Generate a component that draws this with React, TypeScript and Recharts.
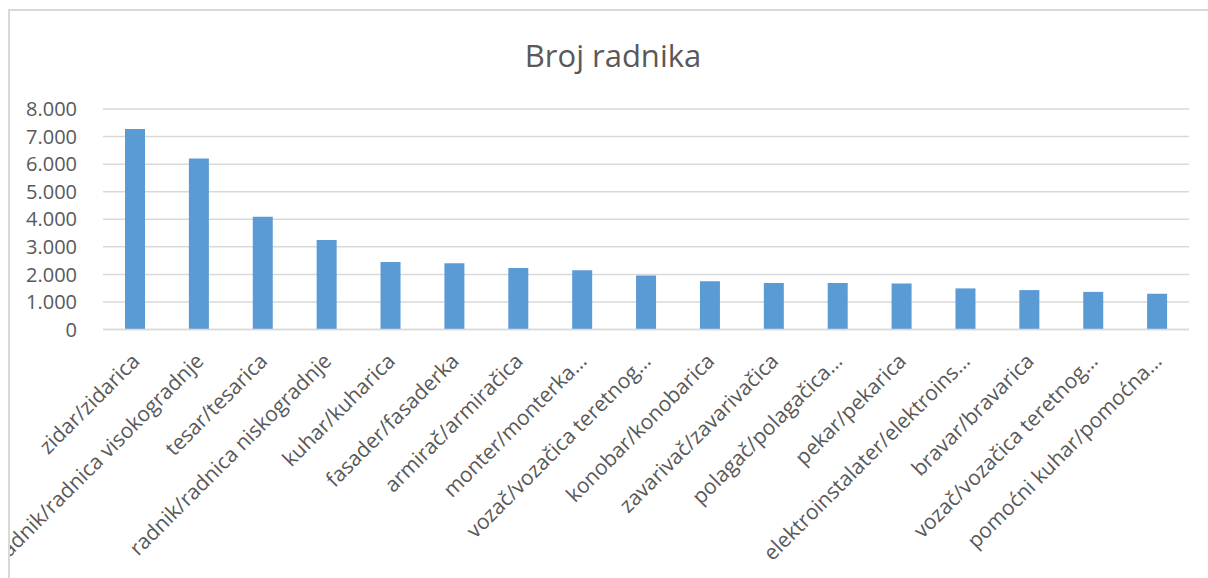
import React from "react";
import { BarChart, Bar, XAxis, YAxis, CartesianGrid } from "recharts";

const categories = [
  "zidar/zidarica",
  "radnik/radnica visokogradnje",
  "tesar/tesarica",
  "radnik/radnica niskogradnje",
  "kuhar/kuharica",
  "fasader/fasaderka",
  "armirač/armiračica",
  "monter/monterka…",
  "vozač/vozačica teretnog…",
  "konobar/konobarica",
  "zavarivač/zavarivačica",
  "polagač/polagačica…",
  "pekar/pekarica",
  "elektroinstalater/elektroins…",
  "bravar/bravarica",
  "vozač/vozačica teretnog…",
  "pomoćni kuhar/pomoćna…",
];

const workers = [7270, 6200, 4090, 3250, 2450, 2400, 2230, 2150, 1960, 1750, 1684, 1684, 1673, 1491, 1430, 1365, 1297];

const yTicks = [0, 1000, 2000, 3000, 4000, 5000, 6000, 7000, 8000];

const title = "Broj radnika";

const data = categories.map((c, i) => ({ name: c, value: workers[i], idx: i }));

const FONT = "'Open Sans', sans-serif";
const TEXT = "#595959";

const fmt = (v: number) => v.toLocaleString("de-DE");

const XTick = (props: any) => {
  const { x, y, payload } = props;
  return (
    <g transform={`translate(${x},${y})`}>
      <text
        x={6}
        y={33}
        textAnchor="end"
        transform="rotate(-45, 6, 33)"
        fill={TEXT}
        fontSize={21}
        fontFamily={FONT}
      >
        {payload.value}
      </text>
    </g>
  );
};

const YTick = (props: any) => {
  const { x, y, payload } = props;
  return (
    <text
      x={x - 26}
      y={y}
      dy="0.36em"
      textAnchor="end"
      fill={TEXT}
      fontSize={20}
      fontFamily={FONT}
    >
      {fmt(payload.value)}
    </text>
  );
};

export default function App() {
  return (
    <>
      <style>{"html,body{margin:0;padding:0;overflow:hidden;}"}</style>
      <div style={{ position: "absolute", left: 8, top: 8, width: 1200, height: 570, background: "#fff" }}>
        <BarChart
          width={1200}
          height={570}
          data={data}
          margin={{ top: 101, right: 19, left: 0, bottom: 0 }}
        >
          <CartesianGrid vertical={false} stroke="#d9d9d9" strokeWidth={1.5} />
          <XAxis
            dataKey="name"
            interval={0}
            tick={<XTick />}
            tickLine={false}
            tickSize={0}
            tickMargin={0}
            height={248.5}
            axisLine={{ stroke: "#d9d9d9", strokeWidth: 1.5 }}
          />
          <YAxis
            width={95}
            domain={[0, 8000]}
            ticks={yTicks}
            interval={0}
            tick={<YTick />}
            tickLine={false}
            tickSize={0}
            tickMargin={0}
            axisLine={false}
          />
          <Bar dataKey="value" fill="#5B9BD5" barSize={20} isAnimationActive={false} />
        </BarChart>
        <svg
          width={1200}
          height={570}
          style={{ position: "absolute", left: 0, top: 0, pointerEvents: "none" }}
        >
          <text x={605} y={58.5} textAnchor="middle" fill={TEXT} fontSize={31} fontFamily={FONT}>
            {title}
          </text>
        </svg>
        <div
          style={{
            position: "absolute",
            left: 0,
            top: 1,
            width: 1200,
            height: 569,
            borderTop: "2px solid #d9d9d9",
            borderLeft: "2px solid #d9d9d9",
            boxSizing: "border-box",
            pointerEvents: "none",
          }}
        />
      </div>
    </>
  );
}
